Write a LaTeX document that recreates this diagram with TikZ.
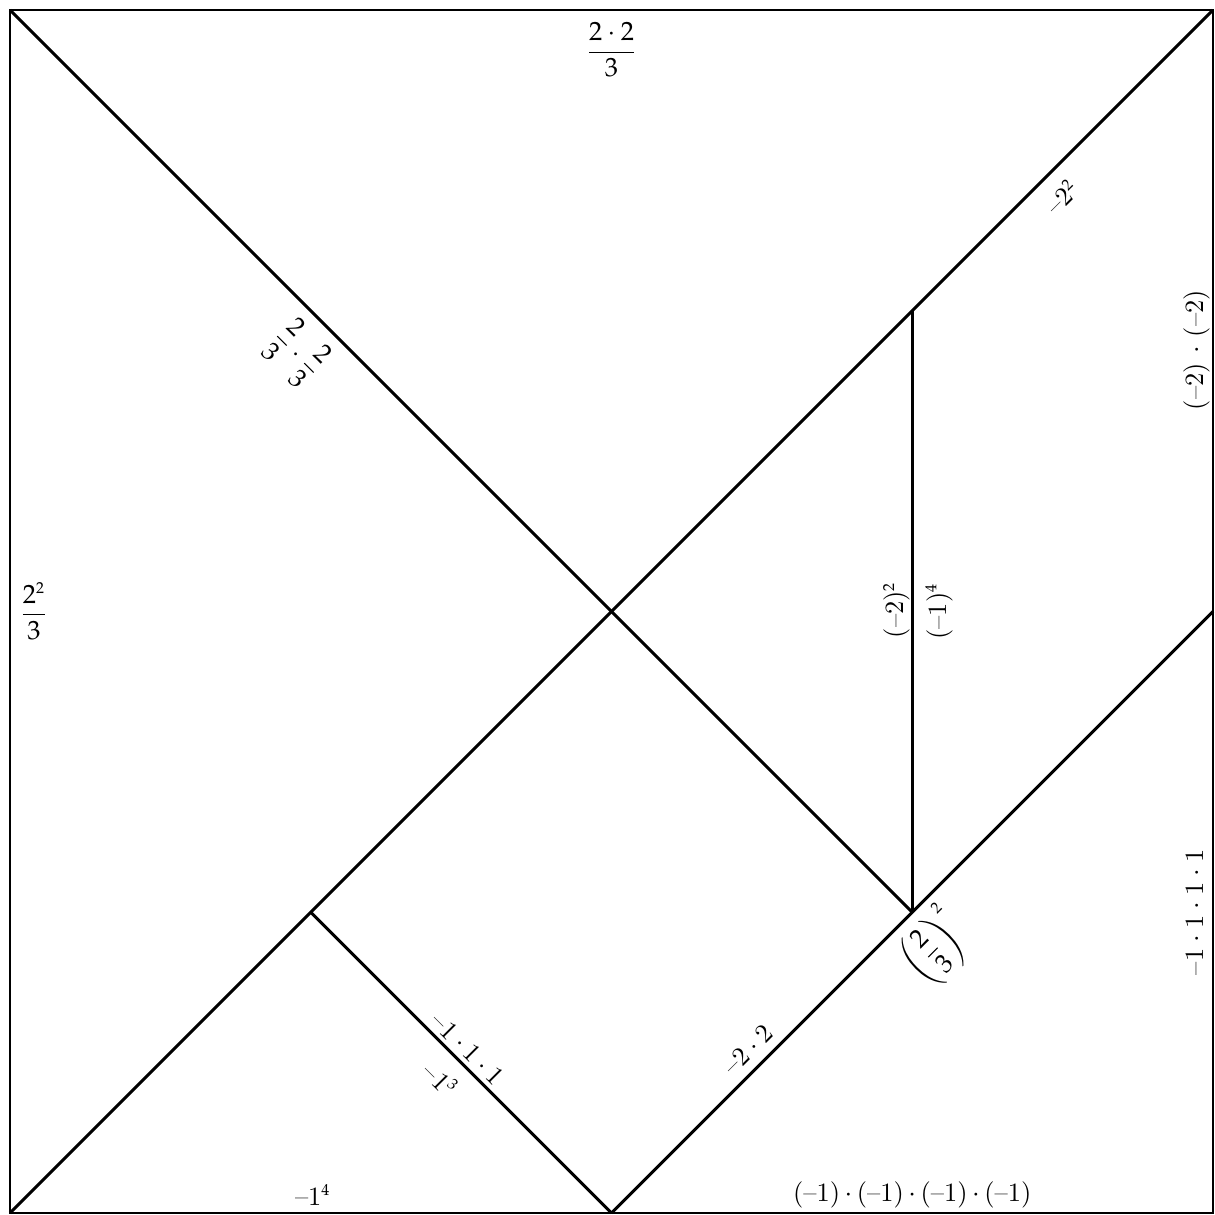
\documentclass[tikz,border=0pt]{standalone}
\usepackage{amsmath}
\usepackage{mathpazo}
\newcommand{\pw}[1]{\ensuremath{^{\scriptscriptstyle #1}}}
\newcommand{\dts}[1]{\hspace{#1}${\cdot}$\hspace{#1}}
\begin{document}
\begin{tikzpicture}[x=4cm,y=4cm,line width=1.1pt,
  lbl/.style={inner sep=0pt}]
\useasboundingbox (-0.0333,-0.0067) rectangle (4.0067,4.0333);
\coordinate (BL) at (0,0);
\coordinate (BR) at (4,0);
\coordinate (TR) at (4,4);
\coordinate (TL) at (0,4);
\coordinate (C) at (2,2);
\coordinate (P) at (3,1);
\coordinate (Q) at (3,3);
\coordinate (R) at (4,2);
\coordinate (M) at (2,0);
\coordinate (S) at (1,1);
\draw (BL) -- (BR) -- (TR) -- (TL) -- cycle;
\draw (TL) -- (P);
\draw (BL) -- (TR);
\draw (Q) -- (P);
\draw (M) -- (R);
\draw (S) -- (M);
\node[lbl] (l1) at (2,3.867) {$\dfrac{2\cdot 2}{3}$};
\node[lbl] (l2) at (0.08,2.0) {$\dfrac{2^{\scriptscriptstyle 2}}{3}$};
\node[lbl,rotate=-45] (l3) at (0.954,2.86) {$\dfrac{2}{3}\cdot\dfrac{2}{3}$};
\node[lbl,rotate=90] (l4) at (2.949,2.005) {(--2)\pw{2}};
\node[lbl,rotate=90] (l5) at (3.089,2.0) {(--1)\pw{4}};
\node[lbl,rotate=45] (l6) at (3.497,3.378) {--2\pw{2}};
\node[lbl,rotate=90] (l7) at (3.947,2.869) {(--2) $\cdot$ (--2)};
\node[lbl,rotate=90] (l8) at (3.94,1.0) {--1\dts{0.22em}1\dts{0.22em}1\dts{0.22em}1};
\node[lbl] (l9) at (3.0,0.06) {(--1)\dts{0.16em}(--1)\dts{0.16em}(--1)\dts{0.16em}(--1)};
\node[lbl] (l10) at (1.007,0.06) {--1\pw{4}};
\node[lbl,rotate=45] (l11) at (3.076,0.881) {$\left(\dfrac{2}{3}\right)^{\scriptscriptstyle 2}$};
\node[lbl,rotate=45] (l12) at (2.454,0.542) {--2\dts{0.2em}2};
\node[lbl,rotate=-45] (l13) at (1.522,0.546) {--1\dts{0.2em}1\dts{0.2em}1};
\node[lbl,rotate=-45] (l14) at (1.432,0.445) {--1\pw{3}};
\end{tikzpicture}
\end{document}
